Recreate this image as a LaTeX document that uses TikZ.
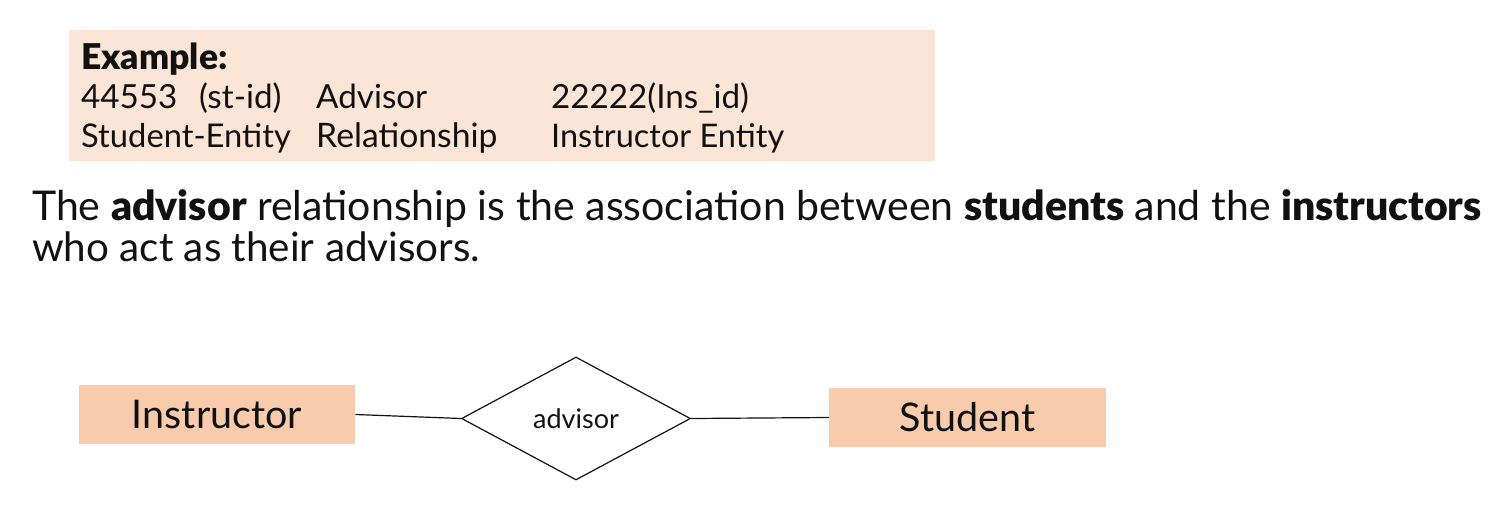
\documentclass[tikz,border=0pt]{standalone}
\usepackage{fontspec}
\setmainfont[BoldFont={Lato Black}]{Lato}
\usetikzlibrary{shapes.geometric}
\definecolor{boxa}{HTML}{FBE5D6}
\definecolor{boxb}{HTML}{F8CBAD}
\definecolor{ink}{HTML}{111111}
\tikzset{
 txt/.style={anchor=base west,inner sep=0pt,text=ink,font=\fontsize{33.2pt}{38pt}\selectfont},
 para/.style={txt,font=\fontsize{41pt}{46pt}\selectfont},
 ent/.style={fill=boxb,minimum width=276.5pt,minimum height=59pt,inner sep=0pt,text=ink,font=\fontsize{39.5pt}{46pt}\selectfont},
 conn/.style={draw=ink,line width=1.2pt}
}
\begin{document}
\begin{tikzpicture}[x=1pt,y=-1pt]
\useasboundingbox (0,0) rectangle (1498,509);
\fill[white] (0,0) rectangle (1498,509);
\node[fill=boxa,anchor=north west,minimum width=866pt,minimum height=131pt,inner sep=0pt] (panel) at (69,30) {};
\node[txt,font=\fontsize{35.5pt}{40pt}\selectfont] (ex) at (81,69) {\textbf{Example:}};
\node[txt] (a1) at (81,108) {44553};
\node[txt] (a2) at (199,108) {(st-id)};
\node[txt] (a3) at (316,108) {Advisor};
\node[txt] (a4) at (551,108) {22222(Ins\_id)};
\node[txt,font=\fontsize{32.7pt}{38pt}\selectfont] (b1) at (81,147) {Student-Entity};
\node[txt,font=\fontsize{33.7pt}{38pt}\selectfont] (b2) at (316,147) {Relationship};
\node[txt,font=\fontsize{32.5pt}{38pt}\selectfont] (b3) at (551,147) {Instructor Entity};
\node[para] (p1) at (32,220) {The \textbf{advisor} relationship is the association between \textbf{students} and the \textbf{instructors}};
\node[para,font=\fontsize{40.4pt}{46pt}\selectfont] (p2) at (32,261) {who act as their advisors.};
\node[ent] (ins) at (217,414.5) {Instructor};
\node[ent] (stu) at (967.5,417.5) {Student};
\node[diamond,draw=ink,line width=1.2pt,fill=white,minimum width=229pt,minimum height=123pt,inner sep=0pt,text=ink,font=\fontsize{27pt}{32pt}\selectfont] (adv) at (576,418.5) {advisor};
\draw[conn] (ins.east) -- (adv.west);
\draw[conn] (adv.east) -- (stu.west);
\end{tikzpicture}
\end{document}
